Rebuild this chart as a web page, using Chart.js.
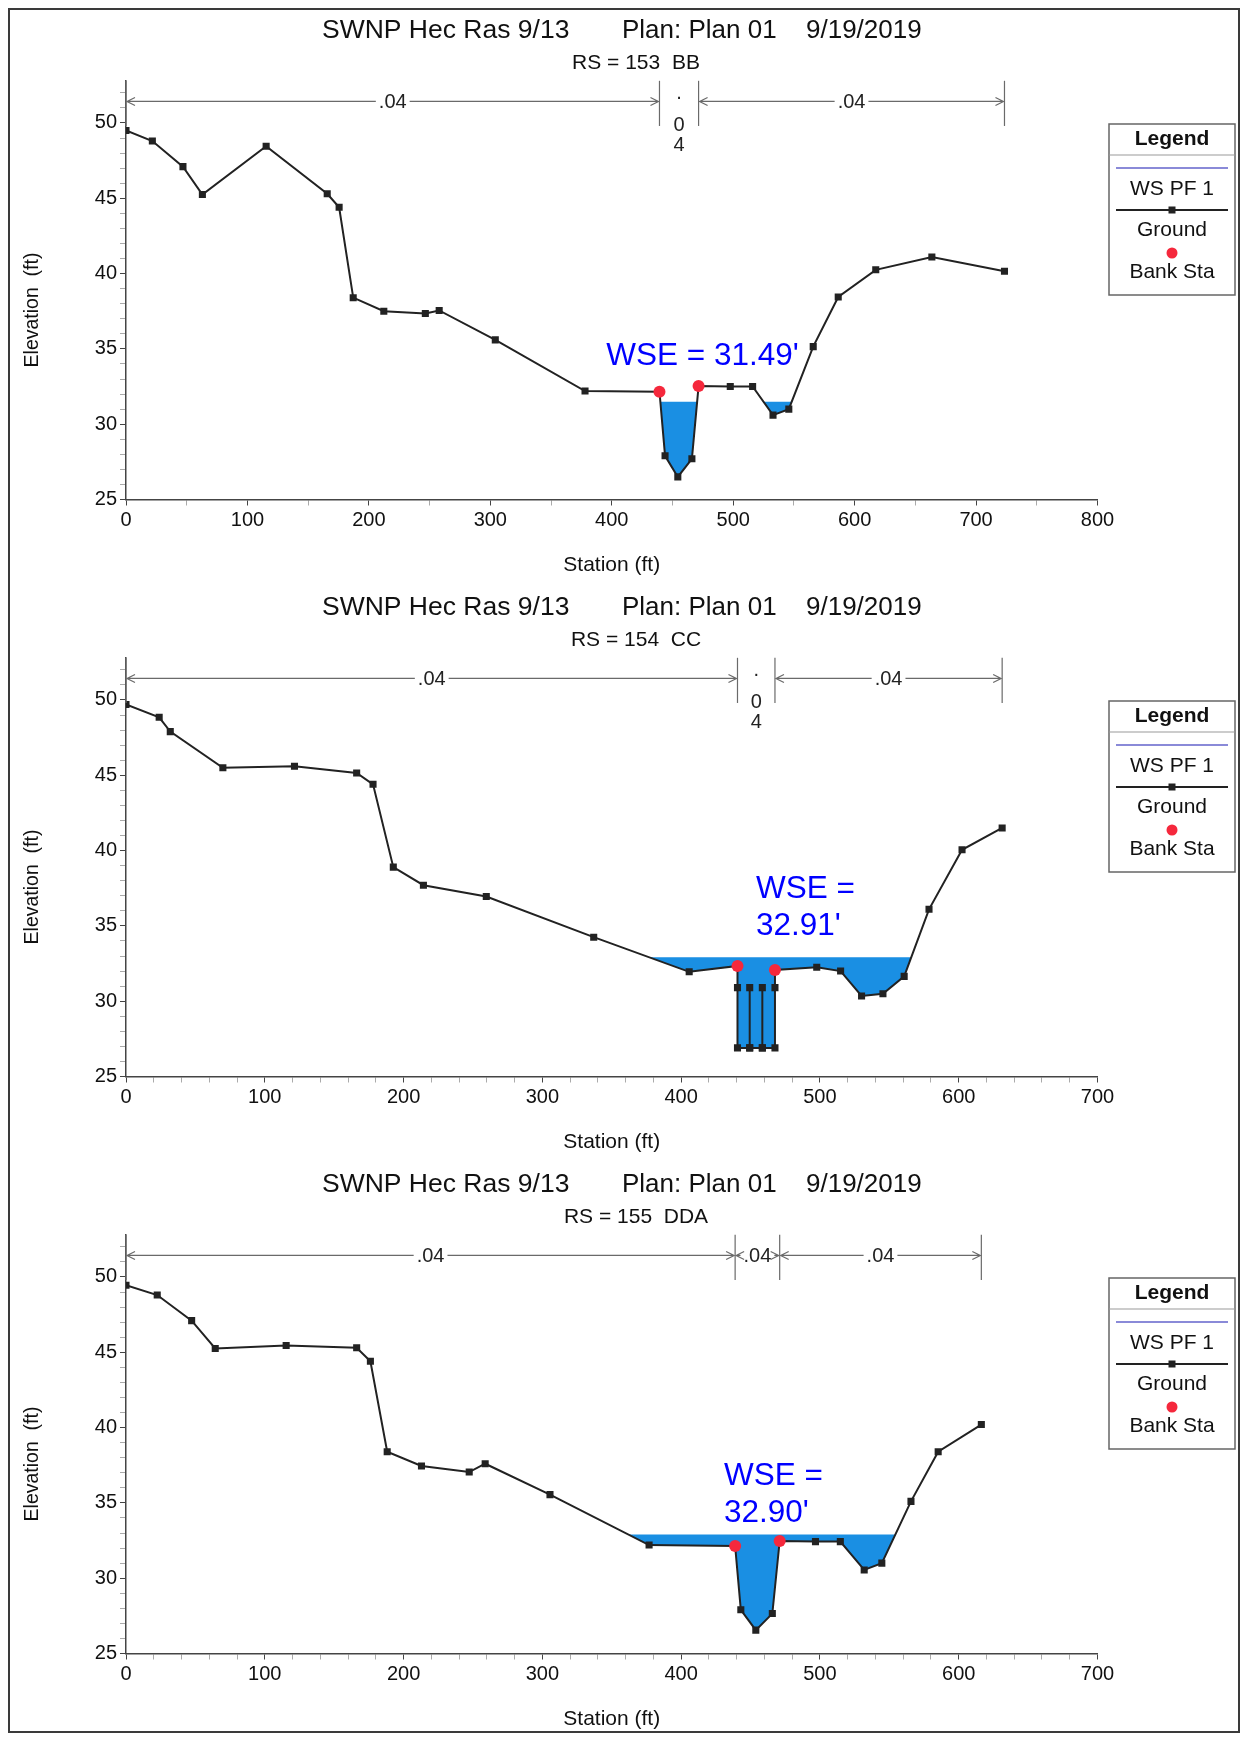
<!DOCTYPE html>
<html><head><meta charset="utf-8">
<script src="https://cdn.jsdelivr.net/npm/chart.js@4.4.1/dist/chart.umd.min.js"></script>
<style>
html,body{margin:0;padding:0;background:#fff;}
body{width:1247px;height:1737px;position:relative;overflow:hidden;}
canvas.panel{position:absolute;left:0;width:1247px;height:578px;}
#frame{position:absolute;left:8px;top:8px;width:1228px;height:1721px;border:2px solid #3a3a3a;pointer-events:none;}
</style></head><body>
<canvas id="c1" class="panel" width="1247" height="578" style="top:0px"></canvas>
<canvas id="c2" class="panel" width="1247" height="578" style="top:577px"></canvas>
<canvas id="c3" class="panel" width="1247" height="578" style="top:1154px"></canvas>
<div id="frame"></div>
<script>
// ---------------- DATA ----------------
const titleParts = ['SWNP Hec Ras 9/13', 'Plan: Plan 01', '9/19/2019'];
const rsLabels = ['RS = 153  BB', 'RS = 154  CC', 'RS = 155  DDA'];
const legendLabels = ['WS PF 1', 'Ground', 'Bank Sta'];

// Section RS 153
const station1 = [0, 21.7, 46.9, 62.9, 115.4, 165.7, 175.5, 187.1, 212.3, 246.5, 257.9, 304.1, 378.0, 439.3, 443.9, 454.4, 466.0, 471.5, 497.6, 516.0, 532.8, 545.8, 565.9, 586.5, 617.4, 663.6, 723.4];
const elev1    = [49.5, 48.8, 47.1, 45.25, 48.45, 45.3, 44.4, 38.4, 37.5, 37.35, 37.55, 35.6, 32.2, 32.16, 27.9, 26.5, 27.7, 32.53, 32.5, 32.5, 30.6, 31.0, 35.15, 38.45, 40.25, 41.1, 40.15];
const bankSta1 = [439.3, 471.5];
const bankEl1  = [32.16, 32.53];
const wse1 = 31.49;
const nBounds1 = [0, 439.3, 471.5, 723.4];
const nValues1 = ['.04', '.04', '.04'];
const wseText1 = ["WSE = 31.49'"];

// Section RS 154
const station2 = [0, 23.9, 31.9, 69.8, 121.4, 166.2, 178.0, 192.6, 214.3, 259.6, 337.0, 405.8, 440.6, 440.6, 440.6, 449.4, 449.4, 449.4, 458.5, 458.5, 458.5, 467.6, 467.6, 467.6, 497.7, 514.9, 530.0, 545.4, 560.7, 578.6, 602.4, 631.3];
const elev2    = [49.7, 48.85, 47.9, 45.5, 45.6, 45.15, 44.4, 38.9, 37.7, 36.95, 34.25, 31.95, 32.34, 30.9, 26.9, 26.9, 30.9, 26.9, 26.9, 30.9, 26.9, 26.9, 30.9, 32.07, 32.25, 32.0, 30.35, 30.5, 31.65, 36.1, 40.05, 41.5];
const bankSta2 = [440.6, 467.6];
const bankEl2  = [32.34, 32.07];
const wse2 = 32.91;
const nBounds2 = [0, 440.6, 467.6, 631.3];
const nValues2 = ['.04', '.04', '.04'];
const wseText2 = ['WSE =', "32.91'"];

// Section RS 155
const station3 = [0, 22.5, 47.3, 64.3, 115.4, 166.2, 176.1, 188.2, 212.9, 247.3, 258.8, 305.5, 376.9, 438.9, 443.0, 453.8, 465.7, 471.0, 496.8, 514.7, 531.9, 544.6, 565.6, 585.2, 616.3];
const elev3    = [49.45, 48.8, 47.1, 45.25, 45.45, 45.3, 44.4, 38.4, 37.45, 37.05, 37.6, 35.55, 32.2, 32.14, 27.9, 26.55, 27.65, 32.47, 32.43, 32.43, 30.55, 31.0, 35.1, 38.4, 40.2];
const bankSta3 = [438.9, 471.0];
const bankEl3  = [32.14, 32.47];
const wse3 = 32.90;
const nBounds3 = [0, 438.9, 471.0, 616.3];
const nValues3 = ['.04', '.04', '.04'];
const wseText3 = ['WSE =', "32.90'"];

// axis ranges / tick labels
const xMax1 = 800, xMax23 = 700;
const xLabels1 = [0, 100, 200, 300, 400, 500, 600, 700, 800];
const xLabels23 = [0, 100, 200, 300, 400, 500, 600, 700];
const yLabels = [25, 30, 35, 40, 45, 50];
const yMin = 25, yMax = 52.8;
const nLineElev = 51.43;

// ---------------- RENDER ----------------
const FONT = '"Liberation Sans", Arial, Helvetica, sans-serif';
Chart.defaults.font.family = FONT;
Chart.defaults.color = '#111';

function pts(xs, ys) { return xs.map((x, i) => ({x: x, y: ys[i]})); }
function range(a, b, step) { const r = []; for (let v = a; v <= b + 1e-9; v += step) r.push(Math.round(v * 100) / 100); return r; }

const hecPlugin = {
  id: 'hec',
  afterDraw(chart) {
    const o = chart.options.plugins.hec;
    const ctx = chart.ctx, xs = chart.scales.x, ys = chart.scales.y, ca = chart.chartArea;
    ctx.save();
    // titles
    ctx.fillStyle = '#111';
    ctx.textBaseline = 'middle';
    ctx.textAlign = 'left';
    ctx.font = '26.5px ' + FONT;
    ctx.fillText(titleParts[0], 322, 31);
    ctx.font = '26px ' + FONT;
    ctx.fillText(titleParts[1], 622, 31);
    ctx.fillText(titleParts[2], 806, 31);
    ctx.textAlign = 'center';
    ctx.font = '21px ' + FONT;
    ctx.fillText(o.rs, 636, 63);

    // y axis title
    ctx.save();
    ctx.translate(33, 310);
    ctx.rotate(-Math.PI / 2);
    ctx.font = '19.5px ' + FONT;
    ctx.fillText('Elevation  (ft)', 0, 0);
    ctx.restore();

    // Manning's n lines
    const yl = ys.getPixelForValue(nLineElev);
    const yb = ys.getPixelForValue(50) + 3;
    ctx.strokeStyle = '#6a6a6a';
    ctx.lineWidth = 1.2;
    o.nBounds.forEach(b => {
      const x = xs.getPixelForValue(b);
      ctx.beginPath(); ctx.moveTo(x, ca.top); ctx.lineTo(x, yb); ctx.stroke();
    });
    ctx.font = '20px ' + FONT;
    ctx.fillStyle = '#222';
    for (let i = 0; i < o.nValues.length; i++) {
      const x0 = xs.getPixelForValue(o.nBounds[i]);
      const x1 = xs.getPixelForValue(o.nBounds[i + 1]);
      const cx = (x0 + x1) / 2;
      const lab = o.nValues[i];
      const w = ctx.measureText(lab).width;
      if (x1 - x0 > w + 14) {
        ctx.beginPath();
        ctx.moveTo(x0 + 1, yl); ctx.lineTo(cx - w / 2 - 3, yl);
        ctx.moveTo(cx + w / 2 + 3, yl); ctx.lineTo(x1 - 1, yl);
        // arrowheads
        ctx.moveTo(x0 + 9, yl - 4); ctx.lineTo(x0 + 1, yl); ctx.lineTo(x0 + 9, yl + 4);
        ctx.moveTo(x1 - 9, yl - 4); ctx.lineTo(x1 - 1, yl); ctx.lineTo(x1 - 9, yl + 4);
        ctx.stroke();
        ctx.textAlign = 'center';
        ctx.fillText(lab, cx, yl + 1);
      } else {
        ctx.textAlign = 'center';
        const chars = lab.split('');
        ctx.fillText(chars[0], cx, yl - 8);
        for (let k = 1; k < chars.length; k++) ctx.fillText(chars[k], cx, yl + 4 + 20 * k);
      }
    }

    // WSE label
    ctx.fillStyle = '#0000ff';
    ctx.font = '31.5px ' + FONT;
    ctx.textAlign = 'left';
    const tx = xs.getPixelForValue(o.wseAt[0]);
    const ty = ys.getPixelForValue(o.wseAt[1]);
    o.wseText.forEach((t, k) => ctx.fillText(t, tx, ty + k * 37));

    // legend box
    const L = 1109, R = 1235, T = 124, B = 295, cx = (L + R) / 2;
    ctx.strokeStyle = '#666'; ctx.lineWidth = 1.5;
    ctx.strokeRect(L, T, R - L, B - T);
    ctx.strokeStyle = '#999'; ctx.lineWidth = 1;
    ctx.beginPath(); ctx.moveTo(L, 155); ctx.lineTo(R, 155); ctx.stroke();
    ctx.fillStyle = '#111'; ctx.textAlign = 'center';
    ctx.font = 'bold 21px ' + FONT;
    ctx.fillText('Legend', cx, 139);
    ctx.font = '21px ' + FONT;
    ctx.strokeStyle = '#8a8ad8'; ctx.lineWidth = 2;
    ctx.beginPath(); ctx.moveTo(L + 7, 168); ctx.lineTo(R - 7, 168); ctx.stroke();
    ctx.fillText(legendLabels[0], cx, 189);
    ctx.strokeStyle = '#222'; ctx.lineWidth = 2;
    ctx.beginPath(); ctx.moveTo(L + 7, 210); ctx.lineTo(R - 7, 210); ctx.stroke();
    ctx.fillStyle = '#222'; ctx.fillRect(cx - 3.5, 206.5, 7, 7);
    ctx.fillStyle = '#111';
    ctx.fillText(legendLabels[1], cx, 230);
    ctx.fillStyle = '#f5283c';
    ctx.beginPath(); ctx.arc(cx, 253, 5.5, 0, Math.PI * 2); ctx.fill();
    ctx.fillStyle = '#111';
    ctx.fillText(legendLabels[2], cx, 272);
    ctx.restore();
  }
};

function makePanel(id, p) {
  const ground = pts(p.station, p.elev);
  const last = p.station[p.station.length - 1];
  const xMinor = p.xMax === 800 ? 50 : 20;
  new Chart(document.getElementById(id), {
    type: 'line',
    data: {
      datasets: [
        {
          label: legendLabels[0],
          data: [{x: p.station[0], y: p.wse}, {x: last, y: p.wse}],
          borderColor: 'rgba(0,0,0,0)', borderWidth: 0, pointRadius: 0,
          fill: {target: 1, above: '#1a8fe3', below: 'rgba(0,0,0,0)'},
          order: 2
        },
        {
          label: legendLabels[1],
          data: ground,
          borderColor: '#222', borderWidth: 2, tension: 0,
          pointStyle: 'rect', pointRadius: 5, pointBackgroundColor: '#222', pointBorderWidth: 0,
          fill: false, order: 1
        },
        {
          label: legendLabels[2],
          data: pts(p.bankSta, p.bankEl),
          showLine: false, pointStyle: 'circle', pointRadius: 6,
          pointBackgroundColor: '#f5283c', pointBorderWidth: 0,
          fill: false, order: 0
        }
      ]
    },
    options: {
      responsive: false, animation: false, devicePixelRatio: 1,
      layout: {padding: {left: 0, right: 149.5, top: 80.8, bottom: 0}},
      plugins: {
        legend: {display: false}, tooltip: {enabled: false},
        hec: {rs: p.rs, nBounds: p.nBounds, nValues: p.nValues, wseText: p.wseText, wseAt: p.wseAt}
      },
      scales: {
        x: {
          type: 'linear', min: 0, max: p.xMax,
          afterBuildTicks: s => { s.ticks = range(0, p.xMax, xMinor).map(v => ({value: v})); },
          afterFit: s => { s.height = 78.5; },
          ticks: {autoSkip: false, maxRotation: 0, padding: 3, color: '#111', font: {size: 20},
            callback: v => p.xLabels.includes(v) ? String(v) : ''},
          grid: {drawOnChartArea: false, drawTicks: true, tickLength: 6,
            tickColor: c => (c.tick && p.xLabels.includes(c.tick.value)) ? '#444' : '#aaa', tickWidth: 1},
          border: {display: true, color: '#444', width: 1.5},
          title: {display: true, text: 'Station (ft)', color: '#111', font: {size: 21}, padding: {top: 0, bottom: 0}}
        },
        y: {
          type: 'linear', min: yMin, max: yMax,
          afterBuildTicks: s => { s.ticks = range(25, 52, 1).map(v => ({value: v})); },
          afterFit: s => { s.width = 126; },
          ticks: {autoSkip: false, padding: 3, color: '#111', font: {size: 20},
            callback: v => yLabels.includes(v) ? String(v) : ''},
          grid: {drawOnChartArea: false, drawTicks: true, tickLength: 6,
            tickColor: c => (c.tick && yLabels.includes(c.tick.value)) ? '#444' : '#aaa', tickWidth: 1},
          border: {display: true, color: '#444', width: 1.5}
        }
      }
    },
    plugins: [hecPlugin]
  });
}

makePanel('c1', {station: station1, elev: elev1, bankSta: bankSta1, bankEl: bankEl1, wse: wse1,
  nBounds: nBounds1, nValues: nValues1, wseText: wseText1, wseAt: [395.5, 34.49], rs: rsLabels[0],
  xMax: xMax1, xLabels: xLabels1});
makePanel('c2', {station: station2, elev: elev2, bankSta: bankSta2, bankEl: bankEl2, wse: wse2,
  nBounds: nBounds2, nValues: nValues2, wseText: wseText2, wseAt: [453.9, 37.45], rs: rsLabels[1],
  xMax: xMax23, xLabels: xLabels23});
makePanel('c3', {station: station3, elev: elev3, bankSta: bankSta3, bankEl: bankEl3, wse: wse3,
  nBounds: nBounds3, nValues: nValues3, wseText: wseText3, wseAt: [430.9, 36.79], rs: rsLabels[2],
  xMax: xMax23, xLabels: xLabels23});
</script>
</body></html>
